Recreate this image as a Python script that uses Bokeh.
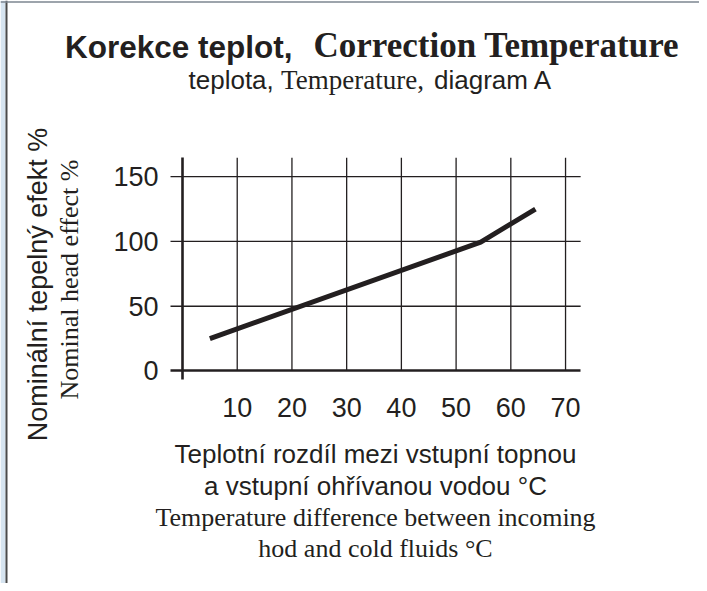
import math
from bokeh.plotting import figure
from bokeh.models import Label, FixedTicker, Range1d, BoxAnnotation, Span
from bokeh.embed import file_html
from bokeh.resources import INLINE

# data
temp_diff = [5, 54.5, 64.5]
heat_effect = [25, 99.5, 125]
x_ticks = [10, 20, 30, 40, 50, 60, 70]
y_ticks = [0, 50, 100, 150]
y_grid = [50, 100, 150]

INK = "#231f20"
SANS = "Liberation Sans"
SERIF = "Liberation Serif"

# plot-area extent in data units (edges of the drawn grid)
X_LO, X_HI = -2.19, 72.76
Y_LO, Y_HI = -6.92, 164.6

W, H = 699, 583
p = figure(width=W, height=H, output_backend="svg", toolbar_location=None,
           x_range=Range1d(-33.26, 94.48), y_range=Range1d(-164.06, 286.03),
           min_border=0)
p.outline_line_color = None
p.background_fill_color = "white"
p.border_fill_color = "white"
p.xgrid.visible = False
p.ygrid.visible = False

# page decoration (screenshot frame edge)
p.add_layout(BoxAnnotation(left=0, right=5, left_units="screen", right_units="screen",
                           fill_color="#d6e4f0", fill_alpha=1.0, line_color=None))
p.add_layout(Span(location=6, location_units="screen", dimension="height",
                  line_color="#4a4a4a", line_width=2))
p.add_layout(Span(location=H - 1.5, location_units="screen", dimension="width",
                  line_color="#7d8690", line_width=1.5))

for ax, ticks in ((p.xaxis, x_ticks), (p.yaxis, y_ticks)):
    ax.fixed_location = 0
    ax.ticker = FixedTicker(ticks=ticks)
    ax.major_tick_out = 0
    ax.major_tick_in = 0
    ax.minor_tick_out = 0
    ax.minor_tick_in = 0
    ax.axis_line_width = 2.6
    ax.axis_line_color = INK
    ax.major_label_text_font = SANS
    ax.major_label_text_font_size = "27px"
    ax.major_label_text_color = INK
p.xaxis.bounds = (X_LO, X_HI)
p.yaxis.bounds = (Y_LO, Y_HI)
p.xaxis.major_label_standoff = 27
p.yaxis.major_label_standoff = 24

# grid lines
p.segment(x0=x_ticks, y0=[0] * len(x_ticks), x1=x_ticks,
          y1=[Y_HI] * len(x_ticks), line_color=INK, line_width=1.3)
p.segment(x0=[X_LO] * len(y_grid), y0=y_grid, x1=[X_HI] * len(y_grid),
          y1=y_grid, line_color=INK, line_width=1.3)

p.line(temp_diff, heat_effect, line_width=5, line_color=INK)


def lab(text, x, y, font, size, style="normal", align="center", angle=0.0):
    p.add_layout(Label(x=x, y=H - y, x_units="screen", y_units="screen",
                       text=text, text_font=font, text_font_size=f"{size}px",
                       text_font_style=style, text_align=align,
                       text_baseline="middle", angle=angle, text_color=INK))


# title
lab("Korekce teplot,", 292, 46, SANS, 31.5, "bold", "right")
lab("Correction Temperature", 313, 45, SERIF, 35, "bold", "left")
# subtitle
lab("teplota,", 188, 79, SANS, 26, "normal", "left")
lab("Temperature,", 352, 79, SERIF, 27, "normal", "center")
lab("diagram A", 552, 79, SANS, 26, "normal", "right")
# y axis titles
lab("Nominální tepelný efekt %", 37, 284, SANS, 27, angle=math.pi / 2)
lab("Nominal head effect %", 69, 279, SERIF, 26, angle=math.pi / 2)
# x axis titles
lab("Teplotní rozdíl mezi vstupní topnou", 375, 453, SANS, 26)
lab("a vstupní ohřívanou vodou °C", 375, 485, SANS, 26)
lab("Temperature difference between incoming", 375, 517, SERIF, 26)
lab("hod and cold fluids °C", 375, 548, SERIF, 26)

open("out.html", "w").write(file_html(p, INLINE))
